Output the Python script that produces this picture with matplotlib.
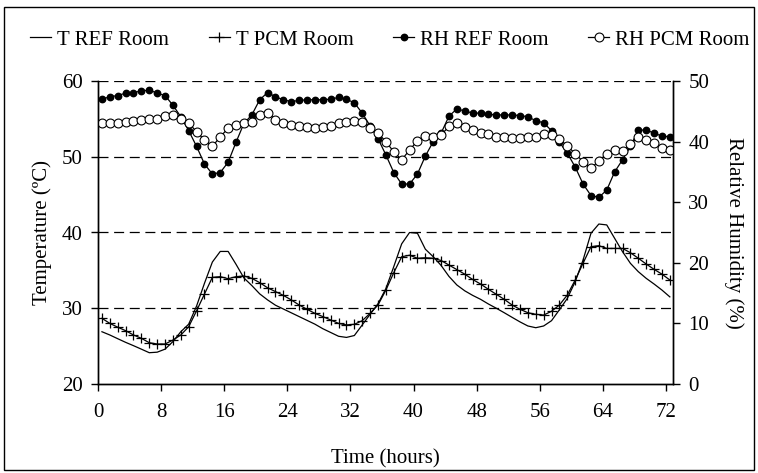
import matplotlib
matplotlib.use("Agg")
import matplotlib.pyplot as plt
import numpy as np
from matplotlib.patches import Rectangle
from matplotlib.lines import Line2D

plt.rcParams['font.family'] = ['Liberation Serif', 'DejaVu Serif']

hours = list(range(73))

t_ref = [26.9, 26.47, 25.98, 25.5, 25.06, 24.6, 24.13, 24.2, 24.6, 25.6,
         26.9, 27.9, 30.3, 33.3, 36.1, 37.5, 37.5, 35.8, 34.0, 33.0,
         31.9, 31.1, 30.4, 29.9, 29.4, 28.9, 28.4, 27.9, 27.3, 26.8,
         26.3, 26.15, 26.4, 27.8, 29.2, 30.6, 32.6, 35.5, 38.5, 40.0,
         39.9, 37.8, 36.8, 35.65, 34.2, 33.07, 32.3, 31.7, 31.18, 30.56,
         30.0, 29.41, 28.8, 28.2, 27.66, 27.43, 27.66, 28.36, 29.8, 31.3,
         33.5, 36.37, 39.9, 41.12, 41.0, 39.23, 37.47, 35.93, 34.83, 33.95,
         33.2, 32.4, 31.5]

t_pcm = [28.67, 28.0, 27.5, 27.04, 26.47, 26.03, 25.45, 25.28, 25.28, 25.8,
         26.47, 27.56, 29.67, 31.88, 34.08, 34.17, 33.9, 34.17, 34.26, 33.95,
         33.38, 32.7, 32.2, 31.7, 31.1, 30.43, 29.86, 29.33, 28.9, 28.45,
         28.0, 27.8, 27.88, 28.36, 29.33, 30.43, 32.4, 34.7, 36.8, 37.0,
         36.6, 36.67, 36.6, 36.3, 35.7, 35.1, 34.5, 33.8, 33.2, 32.5,
         31.84, 31.18, 30.43, 29.86, 29.41, 29.2, 29.1, 29.6, 30.43, 31.75,
         33.73, 35.95, 38.13, 38.26, 37.9, 37.9, 37.9, 37.33, 36.6, 35.84,
         35.14, 34.5, 33.73]

rh_ref = [47.0, 47.4, 47.6, 48.0, 48.1, 48.35, 48.5, 48.0, 47.6, 46.0,
          44.1, 41.8, 39.2, 36.3, 34.65, 34.9, 36.6, 39.9, 43.0, 44.4,
          46.9, 48.1, 47.4, 46.9, 46.6, 46.8, 46.9, 46.9, 46.9, 47.0,
          47.3, 47.0, 46.4, 44.7, 42.6, 40.5, 37.8, 34.9, 33.0, 33.0,
          34.65, 37.6, 40.0, 41.4, 44.2, 45.4, 45.05, 44.7, 44.7, 44.5,
          44.4, 44.4, 44.4, 44.3, 44.1, 43.45, 43.1, 41.8, 39.9, 38.1,
          35.8, 33.0, 31.1, 30.8, 32.0, 35.0, 37.0, 39.2, 41.9, 41.9,
          41.4, 40.9, 40.8]

rh_pcm = [43.0, 43.0, 43.1, 43.3, 43.4, 43.6, 43.7, 43.8, 44.3, 44.4,
          43.8, 43.1, 41.6, 40.3, 39.2, 40.8, 42.2, 42.7, 43.1, 43.3,
          44.4, 44.8, 43.6, 43.1, 42.7, 42.5, 42.4, 42.2, 42.4, 42.6,
          43.0, 43.3, 43.45, 43.3, 42.3, 41.4, 40.0, 38.3, 37.0, 38.6,
          40.15, 40.9, 40.7, 41.1, 42.5, 43.1, 42.4, 41.9, 41.5, 41.2,
          40.8, 40.7, 40.6, 40.6, 40.7, 40.8, 41.2, 41.1, 40.4, 39.3,
          38.0, 36.7, 35.6, 36.8, 38.0, 38.6, 38.4, 39.6, 40.7, 40.3,
          39.7, 39.0, 38.6]

x_ticks = [0, 8, 16, 24, 32, 40, 48, 56, 64, 72]
t_ticks = [20, 30, 40, 50, 60]
rh_ticks = [0, 10, 20, 30, 40, 50]

W, H = 758, 473
fig = plt.figure(figsize=(W / 100, H / 100), dpi=100)
ax = fig.add_axes([98 / W, 1 - 384 / H, (673 - 98) / W, (384 - 81) / H])
ax2 = ax.twinx()

xs = np.array(hours) + 0.5
lw = 0.9
ax.plot(xs, t_ref, color='black', lw=lw)
ax.plot(xs, t_pcm, color='black', lw=lw, marker='+', ms=7, mew=0.9)
ax2.plot(xs, rh_ref, color='black', lw=lw, marker='o', ms=4.6, mfc='black', mec='black')
ax2.plot(xs, rh_pcm, color='black', lw=lw, marker='o', ms=6.4, mfc='white', mec='black', mew=0.8)

ax.set_xlim(0, 72.9)
ax.set_ylim(20, 60)
ax2.set_ylim(0, 50)
ax.set_xticks(x_ticks)
ax.set_yticks(t_ticks)
ax2.set_yticks(rh_ticks)

for g in [30, 40, 50, 60]:
    ax.axhline(g, color='black', lw=0.9, linestyle=(0, (8, 4.5)), zorder=0)

for a in (ax, ax2):
    a.spines['top'].set_visible(False)
    for s in a.spines.values():
        s.set_linewidth(1.0)
    a.tick_params(direction='out', length=5, width=1.0, labelsize=15, colors='black')
ax.tick_params(axis='y', pad=6)
ax2.tick_params(axis='y', pad=6)
ax.tick_params(axis='x', pad=9)

ax.set_ylabel('Temperature (ºC)', fontsize=15, labelpad=7)
ax2.set_ylabel('Relative Humidity (%)', fontsize=15, rotation=270, labelpad=25)
ax.set_xlabel('Time (hours)', fontsize=15, labelpad=19)

handles = [
    Line2D([], [], color='black', lw=lw),
    Line2D([], [], color='black', lw=lw, marker='+', ms=7, mew=0.9),
    Line2D([], [], color='black', lw=lw, marker='o', ms=4.6, mfc='black'),
    Line2D([], [], color='black', lw=lw, marker='o', ms=6.4, mfc='white', mew=0.8),
]
labels = ['T REF Room', 'T PCM Room', 'RH REF Room', 'RH PCM Room']
fig.legend(handles, labels, loc='center', bbox_to_anchor=(390 / W, 1 - 40 / H), ncol=4,
           frameon=False, fontsize=15, handlelength=1.0, handletextpad=0.3,
           columnspacing=1.9, borderaxespad=0, borderpad=0)

fig.patches.append(Rectangle((4 / W, 3 / H), (754 - 4) / W, (466 - 3) / H,
                             transform=fig.transFigure, fill=False, ec='black', lw=1.0))

fig.savefig('out.png', dpi=100)
